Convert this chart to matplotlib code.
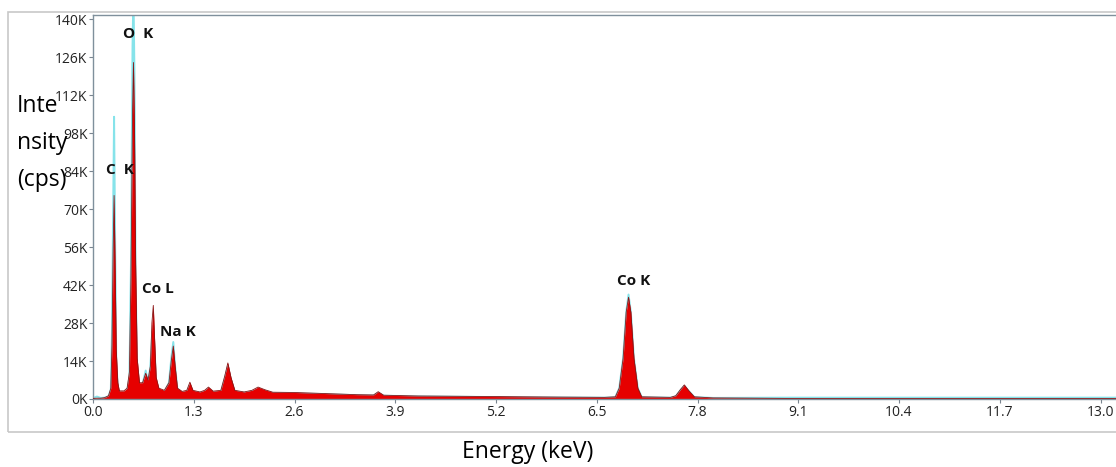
import matplotlib
matplotlib.use("Agg")
import matplotlib.pyplot as plt
from matplotlib.patches import Rectangle

# EDS spectrum (counts in thousands of cps)
energy = [0.00, 0.05, 0.10, 0.15, 0.20, 0.23, 0.245, 0.26, 0.272, 0.285, 0.30, 0.32,
          0.34, 0.40, 0.44, 0.47, 0.49, 0.51, 0.522, 0.535, 0.55, 0.57, 0.60, 0.64,
          0.68, 0.71, 0.74, 0.76, 0.778, 0.795, 0.815, 0.85, 0.92, 0.98, 1.01, 1.036,
          1.06, 1.09, 1.15, 1.21, 1.25, 1.29, 1.38, 1.44, 1.49, 1.55, 1.65, 1.70,
          1.74, 1.78, 1.83, 1.95, 2.05, 2.13, 2.22, 2.32, 2.60, 3.00, 3.40, 3.62,
          3.68, 3.75, 4.20, 5.20, 6.00, 6.60, 6.74, 6.79, 6.84, 6.88, 6.91, 6.94,
          6.98, 7.03, 7.08, 7.45, 7.52, 7.58, 7.63, 7.69, 7.76, 8.00, 9.00, 10.4, 13.2]
sample = [0.2, 0.3, 0.3, 0.5, 1.2, 4.0, 20, 55, 75, 50, 18, 6,
          3.0, 3.0, 4.0, 10, 45, 105, 124, 100, 50, 15, 6, 6,
          9.5, 7, 12, 28, 34.5, 22, 8, 4, 3.2, 6, 14, 19.5,
          12, 4, 2.8, 3.2, 6.2, 3.2, 2.6, 3.2, 4.4, 2.9, 3.2, 8.5,
          13.3, 8, 3.2, 2.6, 3.2, 4.4, 3.4, 2.5, 2.4, 2.0, 1.6, 1.5,
          2.7, 1.4, 1.1, 0.9, 0.7, 0.6, 0.8, 4, 15, 32, 37.5, 32,
          15, 4, 0.8, 0.6, 1.2, 3.5, 5.2, 3.0, 0.8, 0.4, 0.2, 0.2, 0.2]
reference = [0.3, 0.9, 0.4, 0.5, 1.0, 3.5, 25, 70, 104, 60, 15, 4,
             2.4, 2.4, 3.0, 8, 50, 130, 150, 120, 45, 10, 5, 5.5,
             10.5, 6, 12, 22, 27, 18, 6, 3, 2.6, 6, 15, 21,
             12, 3.5, 2.4, 2.6, 5, 2.6, 2.3, 2.7, 3.8, 2.5, 2.7, 7.5,
             12, 7, 2.8, 2.3, 2.7, 3.8, 3.0, 2.2, 2.1, 1.8, 1.4, 1.3,
             2.2, 1.2, 1.0, 0.7, 0.6, 0.5, 0.7, 4, 15, 32, 38.5, 32,
             15, 4, 0.7, 0.5, 1.0, 3.2, 4.8, 2.8, 0.7, 0.4, 0.5, 0.5, 0.5]

# peak labels
peak_names = ["O  K", "C  K", "Co L", "Na K", "Co K"]
peak_x = [0.58, 0.35, 0.84, 1.10, 6.97]
peak_y = [134.5, 84.5, 40.5, 24.7, 43.5]

x_ticks = [0.0, 1.3, 2.6, 3.9, 5.2, 6.5, 7.8, 9.1, 10.4, 11.7, 13.0]
y_ticks = [0, 14, 28, 42, 56, 70, 84, 98, 112, 126, 140]

plt.rcParams['font.family'] = ['Open Sans', 'DejaVu Sans']

fig = plt.figure(figsize=(11.16, 4.67), dpi=100)

# light grey outer frame
fig.patches.append(Rectangle((8 / 1116, 35 / 467), 1.1, 420 / 467, transform=fig.transFigure,
                             fill=False, edgecolor="#c8c8c8", linewidth=1.2))

ax = fig.add_axes([93 / 1116, 68 / 467, 1023 / 1116, 384 / 467])
# reference spectrum sits behind the measured one, only its tips show
ax.plot(energy, reference, color="#86e3ea", linewidth=1.4, zorder=1)
ax.fill_between(energy, sample, 0, color="#e60000", linewidth=0, zorder=2)
ax.plot(energy, sample, color="#8a1515", linewidth=0.6, zorder=3)

for name, px, py in zip(peak_names, peak_x, peak_y):
    ax.text(px, py, name, ha="center", va="center", fontsize=11, fontweight="bold",
            color="#111111", zorder=5)

ax.set_xlim(0, 13.2)
ax.set_ylim(0, 141.5)
ax.set_xticks(x_ticks)
ax.set_xticklabels([f"{v:.1f}" for v in x_ticks])
ax.set_yticks(y_ticks)
ax.set_yticklabels([f"{v}K" for v in y_ticks])
ax.tick_params(labelsize=10, length=3, width=0.8, colors="#7a8590", labelcolor="#222222", pad=1)

for side in ["left", "bottom", "top"]:
    ax.spines[side].set_color("#7f909c")
    ax.spines[side].set_linewidth(1.0)
ax.spines["right"].set_visible(False)

fig.text(528 / 1116, 1 - 452 / 467, "Energy (keV)", ha="center", va="center", fontsize=16.5)
fig.text(17 / 1116, 1 - 143 / 467, "Inte\nnsity\n(cps)", ha="left", va="center",
         fontsize=16.5, linespacing=1.72)

fig.savefig("out.png", dpi=100)
